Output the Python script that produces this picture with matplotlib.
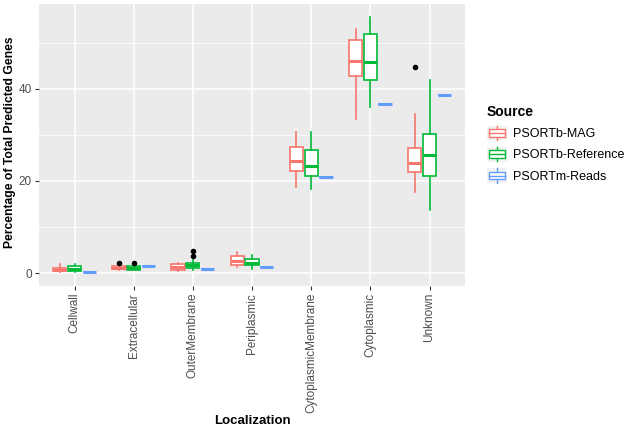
"""
    Boxplots of predicted localization per source.
"""

from matplotlib import pyplot as plt
from matplotlib.patches import Rectangle
from matplotlib.lines import Line2D
from matplotlib.legend_handler import HandlerBase
import numpy as np

plt.rcParams['font.family'] = ['Liberation Sans', 'DejaVu Sans']

categories = ['Cellwall', 'Extracellular', 'OuterMembrane', 'Periplasmic',
              'CytoplasmicMembrane', 'Cytoplasmic', 'Unknown']
sources = ['PSORTb-MAG', 'PSORTb-Reference', 'PSORTm-Reads']
colors = ['#F8766D', '#00BA38', '#619CFF']

mag_whislo = [0.2, 0.6, 0.5, 1.4, 18.6, 33.5, 17.7]
mag_q1 = [0.4, 0.8, 0.7, 1.7, 22.2, 42.8, 21.9]
mag_med = [0.7, 1.2, 1.4, 2.6, 24.4, 46.0, 24.0]
mag_q3 = [1.2, 1.6, 2.0, 3.7, 27.4, 50.6, 27.2]
mag_whishi = [1.9, 1.8, 2.2, 4.5, 30.7, 52.9, 34.5]
mag_fliers = [[], [2.3], [], [], [], [], [44.7]]

ref_whislo = [0.15, 0.6, 0.6, 0.9, 18.3, 36.1, 13.6]
ref_q1 = [0.4, 0.75, 1.2, 1.7, 21.1, 41.8, 21.0]
ref_med = [0.9, 1.1, 1.7, 2.1, 23.2, 45.8, 25.6]
ref_q3 = [1.6, 1.5, 2.15, 3.1, 26.7, 51.9, 30.2]
ref_whishi = [2.0, 1.8, 2.8, 4.0, 30.6, 55.5, 41.8]
ref_fliers = [[], [2.3], [3.7, 4.8], [], [], [], []]

reads_value = [0.2, 1.5, 0.8, 1.3, 20.8, 36.6, 38.6]


def make_stats(lo, q1, med, q3, hi, fliers):
    return [dict(whislo=a, q1=b, med=c, q3=d, whishi=e, fliers=f)
            for a, b, c, d, e, f in zip(lo, q1, med, q3, hi, fliers)]


STATS = [
    make_stats(mag_whislo, mag_q1, mag_med, mag_q3, mag_whishi, mag_fliers),
    make_stats(ref_whislo, ref_q1, ref_med, ref_q3, ref_whishi, ref_fliers),
    make_stats(reads_value, reads_value, reads_value, reads_value,
               reads_value, [[] for _ in reads_value]),
]


class BoxKey(HandlerBase):
    # small ggplot-like boxplot glyph on a grey key background
    def create_artists(self, legend, handle, xd, yd, w, h, fs, trans):
        c = handle.get_color()
        x0, y0 = -xd, -yd
        bg = Rectangle((x0, y0), w, h, fc='#F2F2F2', ec='none',
                       transform=trans)
        box = Rectangle((x0 + w * 0.12, y0 + h * 0.24), w * 0.76, h * 0.52,
                        fc='white', ec=c, lw=1.0, transform=trans)
        med = Line2D([x0 + w * 0.12, x0 + w * 0.88], [y0 + h / 2] * 2,
                     color=c, lw=1.0, transform=trans)
        wh = Line2D([x0 + w / 2] * 2, [y0 + h * 0.02, y0 + h * 0.98],
                    color=c, lw=1.0, transform=trans)
        return [bg, wh, box, med]


fig = plt.figure(figsize=(6.33, 4.30), dpi=100)
ax = fig.add_axes([39 / 633, 144 / 430, 426 / 633, 282 / 430])
ax.set_facecolor('#EBEBEB')

x = np.arange(len(categories))
offsets = [-0.25, 0.0, 0.25]
for stats, off, col in zip(STATS, offsets, colors):
    ax.bxp(stats, positions=x + off, widths=0.225, showcaps=False,
           patch_artist=True,
           boxprops=dict(facecolor='white', edgecolor=col, linewidth=1.2),
           whiskerprops=dict(color=col, linewidth=1.2),
           medianprops=dict(color=col, linewidth=2.2, solid_capstyle='butt'),
           flierprops=dict(marker='o', markerfacecolor='black',
                           markeredgecolor='black', markersize=3),
           manage_ticks=False, zorder=3)

ax.set_xlim(-0.6, len(categories) - 0.4)
ax.set_ylim(-2.8, 58.4)
ax.set_xticks(x)
ax.set_xticklabels(categories, rotation=90, ha='center', va='top')
ax.set_yticks([0, 20, 40])
ax.set_yticks([10, 30, 50], minor=True)
ax.grid(True, which='major', color='white', linewidth=1.1, zorder=0)
ax.grid(True, which='minor', axis='y', color='white', linewidth=0.55, zorder=0)
ax.set_axisbelow(True)
for s in ax.spines.values():
    s.set_visible(False)
ax.tick_params(which='major', length=3, color='#333333', labelcolor='#4D4D4D',
               labelsize=8.5, width=0.8, pad=2)
ax.tick_params(which='minor', length=0)

# axis titles placed in figure pixels, as in the reference
fig.text(252 / 633, 1 - 421 / 430, 'Localization', fontsize=9.5,
         fontweight='bold', ha='center', va='center')
fig.text(10 / 633, 1 - 142 / 430, 'Percentage of Total Predicted Genes',
         fontsize=8.7, fontweight='bold', rotation=90, ha='center', va='center')

handles = [Line2D([], [], color=c) for c in colors]
leg = fig.legend(handles, sources, handler_map={Line2D: BoxKey()},
                 loc='upper left', bbox_to_anchor=(482 / 633, 1 - 100 / 430),
                 title='Source', frameon=False, fontsize=9,
                 handlelength=1.6, handleheight=1.45, handletextpad=0.5,
                 labelspacing=0.52, borderaxespad=0)
leg.get_title().set_fontweight('bold')
leg.get_title().set_fontsize(10)
leg._legend_box.align = 'left'

fig.savefig('out.png', dpi=100)
